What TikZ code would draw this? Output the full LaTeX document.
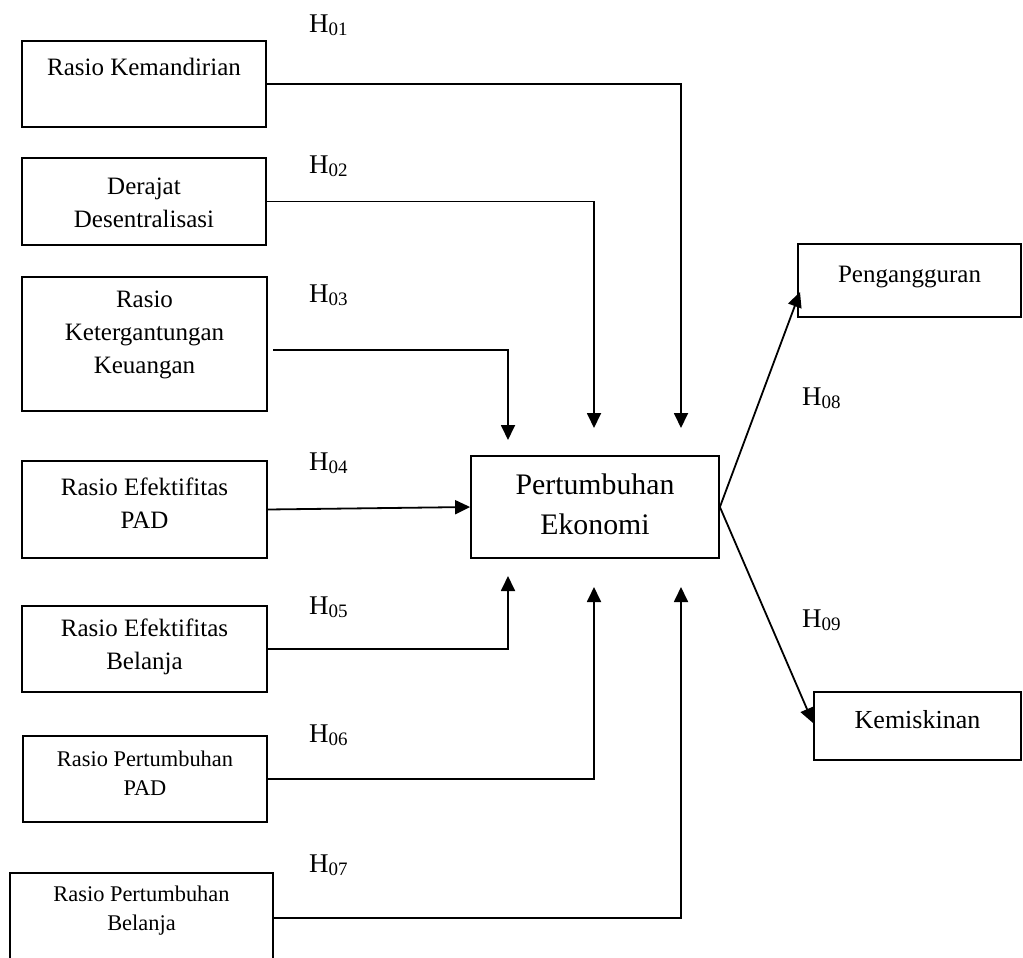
\documentclass[tikz,border=0pt]{standalone}
\usepackage{fontspec}
\setmainfont{Liberation Serif}
\usetikzlibrary{arrows.meta}
\newcommand{\hyplbl}[1]{H\raisebox{-3pt}{\fontsize{19}{19}\selectfont #1}}
\begin{document}
\begin{tikzpicture}[x=1pt,y=-1pt,
 box/.style={draw, line width=1.8pt, inner sep=0pt},
 lbl/.style={align=center, inner sep=0pt, font=\fontsize{25}{33}\selectfont},
 sml/.style={align=center, inner sep=0pt, font=\fontsize{22.4}{29}\selectfont},
 big/.style={align=center, inner sep=0pt, font=\fontsize{29.8}{40}\selectfont},
 hl/.style={anchor=base west, inner sep=0pt, font=\fontsize{27}{27}\selectfont},
 arr/.style={line width=1.8pt, -{Triangle[length=15pt,width=14pt]}}]
\useasboundingbox (0,0) rectangle (1023,958);

% boxes
\node[box, minimum width=244pt, minimum height=86pt] (b1) at (144,84) {};
\node[box, minimum width=244pt, minimum height=87pt] (b2) at (144,201.5) {};
\node[box, minimum width=245pt, minimum height=134pt] (b3) at (144.5,344) {};
\node[box, minimum width=245pt, minimum height=97pt] (b4) at (144.5,509.5) {};
\node[box, minimum width=245pt, minimum height=86pt] (b5) at (144.5,649) {};
\node[box, minimum width=244pt, minimum height=86pt] (b6) at (145,779) {};
\node[box, minimum width=263pt, minimum height=90pt] (b7) at (141.5,918) {};
\node[box, minimum width=248pt, minimum height=102pt] (pe) at (595,507) {};
\node[box, minimum width=223pt, minimum height=73pt] (pg) at (909.5,280.5) {};
\node[box, minimum width=207pt, minimum height=68pt] (km) at (917.5,726) {};

% texts
\node[lbl, anchor=base] (t1) at (144,76) {Rasio Kemandirian};
\node[lbl] (t2) at (144,203) {Derajat\\Desentralisasi};
\node[lbl] (t3) at (144.5,335) {Rasio\\Ketergantungan\\Keuangan};
\node[lbl] (t4) at (144.5,503) {Rasio Efektifitas\\PAD};
\node[lbl] (t5) at (144.5,647) {Rasio Efektifitas\\Belanja};
\node[sml] (t6) at (145,773) {Rasio Pertumbuhan\\PAD};
\node[sml] (t7) at (141.5,911) {Rasio Pertumbuhan\\Belanja};
\node[big] (tpe) at (595,504) {Pertumbuhan\\Ekonomi};
\node[lbl, anchor=base] (tpg) at (909.5,282) {Pengangguran};
\node[lbl, anchor=base, font=\fontsize{26}{33}\selectfont] (tkm) at (917.5,728) {Kemiskinan};

% hypothesis labels
\node[hl] (h1) at (309,33) {\hyplbl{01}};
\node[hl] (h2) at (309,173) {\hyplbl{02}};
\node[hl] (h3) at (309,302) {\hyplbl{03}};
\node[hl] (h4) at (309,470) {\hyplbl{04}};
\node[hl] (h5) at (309,614) {\hyplbl{05}};
\node[hl] (h6) at (309,742) {\hyplbl{06}};
\node[hl] (h7) at (309,872) {\hyplbl{07}};
\node[hl] (h8) at (802,405) {\hyplbl{08}};
\node[hl] (h9) at (802,627) {\hyplbl{09}};

% connector end points
\coordinate (a1) at (681,428);
\coordinate (a2) at (594,428);
\coordinate (s3) at (273,350);
\coordinate (a3) at (508,440);
\coordinate (a5) at (508,576);
\coordinate (a6) at (594,587);
\coordinate (a7) at (681,587);
\coordinate (a8) at (800,292);
\coordinate (a9) at (813,723);

% connectors
\draw[arr] (b1.east) -| (a1);
\draw[arr] (b2.east) -| (a2);
\draw[arr] (s3) -| (a3);
\draw[arr] (b4.east) -- (pe.west);
\draw[arr] (b5.east) -| (a5);
\draw[arr] (b6.east) -| (a6);
\draw[arr] (b7.east) -| (a7);
\draw[arr] (pe.east) -- (a8);
\draw[arr] (pe.east) -- (a9);
\end{tikzpicture}
\end{document}
